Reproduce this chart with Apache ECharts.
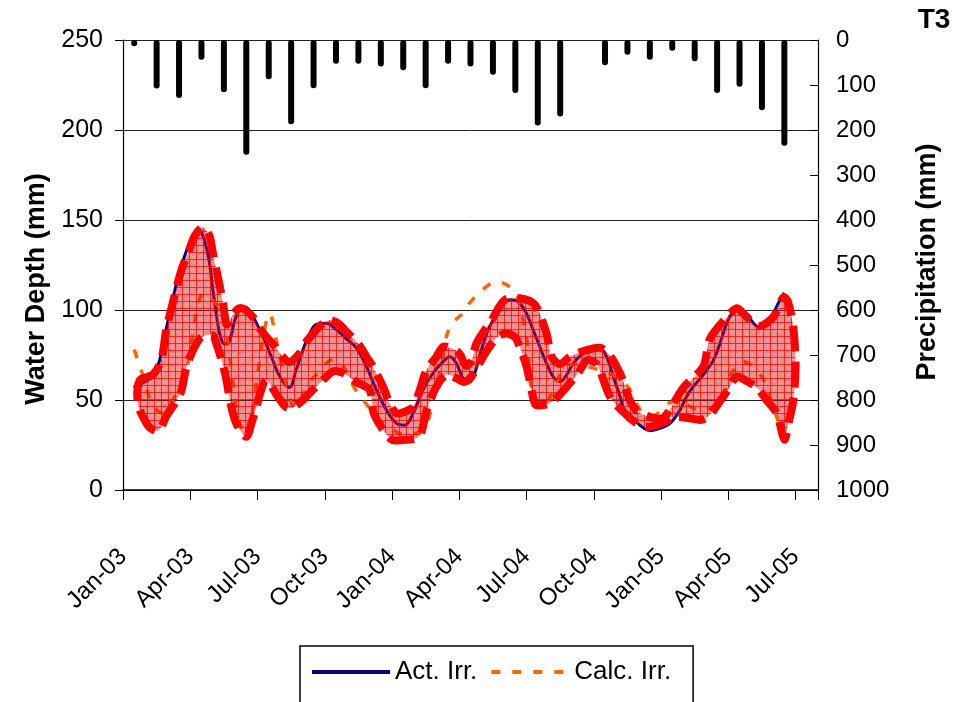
<!DOCTYPE html>
<html><head><meta charset="utf-8">
<script src="https://cdn.jsdelivr.net/npm/echarts@6/dist/echarts.min.js"></script>
<style>html,body{margin:0;padding:0;background:#fff}#c{width:961px;height:702px}</style>
</head><body><div id="c"></div>
<script>
// x values are months since Jan 2003 (0 = start of Jan-03)
const xTickLabels = ['Jan-03','Apr-03','Jul-03','Oct-03','Jan-04','Apr-04','Jul-04','Oct-04','Jan-05','Apr-05','Jul-05'];

// monthly precipitation (mm), Jan-03 .. Jun-05
const precipValues = [14,108,129,44,116,255,87,187,107,53,53,59,
                      67,107,53,59,77,118,190,170,0,56,33,44,
                      24,47,118,104,156,235];

const actIrr = [[0.47,57],[0.96,60],[1.33,63],[1.63,72],[1.85,85],[2.15,102],[2.45,118],[2.75,130],[2.97,137],[3.3,144],[3.49,143],[3.71,135],[3.86,126],[4.01,111],[4.16,98],[4.31,87],[4.53,81],[4.75,83],[4.98,94],[5.2,100],[5.47,101.5],[5.72,98],[6.02,91],[6.32,83],[6.62,74],[6.91,65],[7.21,59],[7.43,57],[7.73,67],[8.03,78],[8.33,87],[8.62,92],[9.07,92.6],[9.52,89],[9.96,84],[10.41,79],[10.86,68.5],[11.3,55.6],[11.75,44.4],[12.2,37],[12.57,36],[12.94,42.6],[13.38,55.6],[13.83,65],[14.28,71.3],[14.58,74],[14.87,70.4],[15.17,62],[15.47,60],[15.69,65],[15.99,78],[16.29,89],[16.58,96],[16.88,103],[17.25,105.6],[17.63,104.6],[18.0,98],[18.29,89],[18.59,79.6],[18.89,70.4],[19.19,63],[19.49,60.2],[19.79,64],[20.08,70.4],[20.45,75],[20.9,77.8],[21.27,78.7],[21.57,74],[21.87,63],[22.17,52],[22.39,43.5],[22.76,39.8],[23.06,36],[23.5,33],[23.95,34.3],[24.4,37],[24.84,44.4],[25.14,52],[25.44,57.4],[25.88,64],[26.33,72],[26.63,81.5],[26.93,92.6],[27.22,99],[27.52,100.4],[27.82,98],[28.12,92.6],[28.42,90],[28.71,91.7],[28.94,95.4],[29.16,102],[29.49,109.6]];

const calcIrr = [[0.5,78],[0.88,64],[1.26,49],[1.7,43],[2.1,48],[2.52,57],[2.9,70],[3.09,85],[3.3,100],[3.56,109],[3.79,108],[4.1,104],[4.46,98],[4.83,67],[5.1,42],[5.5,30],[5.9,55],[6.25,85],[6.54,98],[6.84,83],[7.06,70],[7.35,55],[7.66,46],[8.0,52],[8.33,60],[8.7,65],[9.37,72.6],[9.81,69],[10.33,56.5],[10.78,49],[11.5,38],[12.34,31.5],[12.71,30.6],[13.46,35],[13.83,50],[14.2,70],[14.58,90.7],[15.32,100],[15.47,104],[16.21,113],[16.66,115.7],[17.48,110],[17.85,94],[18.07,78],[18.15,61],[18.67,45.4],[19.26,57],[19.63,67],[20.2,70],[20.9,68],[21.64,65],[22.1,62],[22.6,56],[23.1,44],[23.58,41],[24.4,48.5],[24.77,49],[25.74,44.4],[26.63,49],[27.15,65],[27.67,71.3],[28.49,63],[29.0,46.3],[29.46,29]];

// envelope: upper edge (forward), right closing edge, lower edge (forward)
const bandUpper = [[0.75,61],[1.33,64],[1.7,72],[1.93,89],[2.22,104],[2.6,122],[2.9,131.5],[3.19,141],[3.56,146],[3.86,141],[4.01,131.5],[4.23,118.5],[4.46,104],[4.62,92],[4.8,95],[5.0,99],[5.2,101],[5.47,100],[5.8,96],[6.09,90],[6.47,84],[6.76,80],[7.13,74],[7.43,71],[7.88,76],[8.18,82.4],[8.63,89],[8.92,92.6],[9.22,94.4],[9.59,92.6],[10.04,87],[10.48,81.5],[10.86,74],[11.15,68.5],[11.6,57.4],[11.9,48],[12.2,42.6],[12.57,43.5],[12.94,46.3],[13.24,55.6],[13.54,66.7],[13.98,74],[14.28,79.6],[14.65,78.7],[15.0,76],[15.3,69],[15.55,72],[15.77,81.5],[16.44,94.4],[17.03,105.6],[17.7,106.5],[18.37,103],[18.89,87],[19.12,74],[19.5,70],[19.93,74],[20.5,77],[21.27,79],[21.7,75],[22.0,69],[22.3,61],[22.6,50],[22.9,44],[23.2,42],[23.7,40],[24.1,40],[24.5,47],[25.0,57],[25.88,68.5],[26.18,84],[26.93,96],[27.38,101],[27.67,98],[28.34,91],[29.0,96],[29.45,107]];
const bandRightEdge = [[29.65,105],[29.9,90],[30.0,68],[29.9,50],[29.7,38]];
const bandLower = [[0.66,48],[1.0,38],[1.26,34],[1.6,33],[1.93,41],[2.3,48],[2.6,55],[2.82,68],[3.1,77],[3.42,84],[3.7,86],[4.0,86],[4.16,81.5],[4.4,72],[4.6,62],[4.8,48],[5.05,37],[5.5,29.6],[5.75,38],[5.95,46],[6.15,55],[6.39,61],[6.9,52],[7.28,46],[7.6,46],[8.03,50],[8.5,56],[9.0,62],[9.4,66],[9.81,65],[10.4,60],[11.0,55.6],[11.2,42],[11.97,28],[12.49,27.8],[13.09,28.7],[13.31,32],[13.54,44],[13.98,57.4],[14.43,64],[14.9,62],[15.2,60],[15.54,63],[16.21,77],[16.7,85],[17.1,87],[17.48,85],[17.63,81.5],[18.0,68.5],[18.37,48],[18.59,47],[19.0,48],[19.41,52],[20.3,65],[20.7,72],[21.12,70],[21.64,54],[21.87,49],[22.39,42.6],[22.6,40],[23.06,36],[23.43,35],[23.8,36],[24.2,38],[24.55,40.7],[25.2,40],[25.8,39],[26.2,42],[26.55,48],[27.0,56],[27.37,63],[27.75,61],[28.27,57],[28.7,50],[29.16,42.6],[29.5,28]];

const FONT = '"Liberation Sans", Arial, sans-serif';

const bandPolygon = bandUpper.concat(bandRightEdge, bandLower.slice().reverse());
const precipData = precipValues.map((v, i) => [i + 0.5, v]);

// hatch pattern for the envelope fill
const pc = document.createElement('canvas');
pc.width = 7; pc.height = 7;
const g = pc.getContext('2d');
for (let i = 0; i < 7; i++) for (let j = 0; j < 7; j++) {
  g.fillStyle = ((i + j) % 2) ? 'rgba(255,0,0,0.36)' : 'rgba(255,0,0,0.5)';
  g.fillRect(i, j, 1, 1);
}
g.fillStyle = 'rgba(255,0,0,0.75)';
g.fillRect(0, 0, 7, 1);
g.fillRect(0, 0, 1, 7);

const chart = echarts.init(document.getElementById('c'), null, {renderer: 'canvas'});
chart.setOption({
  animation: false,
  backgroundColor: '#fff',
  textStyle: {fontFamily: FONT},
  grid: {left: 123, right: 143, top: 40, bottom: 212, containLabel: false},
  legend: {
    left: 300, top: 646, padding: [13, 22, 40, 10], itemGap: 12,
    itemWidth: 78, itemHeight: 14, borderColor: '#000', borderWidth: 1.5,
    selectedMode: false,
    itemStyle: {opacity: 0},
    lineStyle: {width: 4},
    textStyle: {fontSize: 26, color: '#000', fontFamily: FONT},
    data: ['Act. Irr.', 'Calc. Irr.']
  },
  xAxis: {
    type: 'value', min: 0, max: 31, interval: 3,
    axisLine: {lineStyle: {color: '#000', width: 1.5}},
    axisTick: {length: 10, lineStyle: {color: '#000'}},
    splitLine: {show: false},
    axisLabel: {
      rotate: 45, margin: 63, fontSize: 24, color: '#000', fontFamily: FONT,
      align: 'right', verticalAlign: 'middle',
      formatter: v => (v % 3 === 0 && xTickLabels[v / 3]) ? xTickLabels[v / 3] : ''
    }
  },
  yAxis: [{
    type: 'value', min: 0, max: 250, interval: 50,
    axisLine: {show: true, lineStyle: {color: '#000', width: 1.2}},
    axisTick: {show: true, length: 8, lineStyle: {color: '#000'}},
    splitLine: {show: true, lineStyle: {color: '#222', width: 1}},
    axisLabel: {margin: 20, fontSize: 25, color: '#000', fontFamily: FONT}
  }, {
    type: 'value', min: 0, max: 1000, interval: 100, inverse: true, position: 'right',
    axisLine: {show: true, lineStyle: {color: '#000', width: 1.2}},
    axisTick: {show: true, inside: true, length: 8, lineStyle: {color: '#000'}},
    splitLine: {show: false},
    axisLabel: {margin: 18, fontSize: 24, color: '#000', fontFamily: FONT, formatter: v => String(v)}
  }],
  graphic: [
    {type: 'text', x: 37, y: 289, rotation: Math.PI / 2,
     style: {text: 'Water Depth (mm)', font: 'bold 27px ' + FONT, fill: '#000', align: 'center', verticalAlign: 'middle'}},
    {type: 'text', x: 928, y: 262, rotation: Math.PI / 2,
     style: {text: 'Precipitation (mm)', font: 'bold 27px ' + FONT, fill: '#000', align: 'center', verticalAlign: 'middle'}},
    {type: 'text', x: 934, y: 20,
     style: {text: 'T3', font: 'bold 28px ' + FONT, fill: '#000', align: 'center', verticalAlign: 'middle'}}
  ],
  series: [{
    name: 'Precipitation', type: 'bar', yAxisIndex: 1, data: precipData,
    barWidth: 6, itemStyle: {color: '#000', borderRadius: 3}, z: 2
  }, {
    name: 'Act. Irr.', type: 'line', data: actIrr, smooth: 0.35, symbol: 'none',
    lineStyle: {color: '#000080', width: 3}, itemStyle: {color: '#000080'}, z: 3
  }, {
    name: 'Calc. Irr.', type: 'line', data: calcIrr, smooth: 0.35, symbol: 'none',
    lineStyle: {color: '#FF6600', width: 3.5, type: [9, 12]}, itemStyle: {color: '#FF6600'}, z: 3
  }, {
    name: 'Range', type: 'custom', data: [[15, 100]], z: 4, silent: true,
    renderItem: function (params, api) {
      const pts = bandPolygon.map(p => api.coord(p));
      return {
        type: 'polygon',
        shape: {points: pts, smooth: 0.3},
        style: {fill: {image: pc, repeat: 'repeat'}, stroke: '#FF0000', lineWidth: 8, lineDash: [26, 10]}
      };
    }
  }]
});
</script>
</body></html>
